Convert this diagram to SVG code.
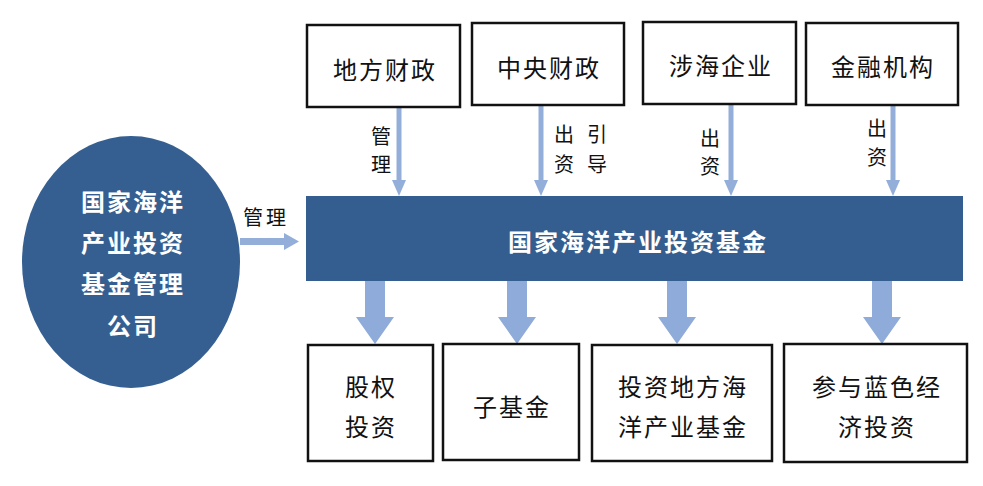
<svg xmlns="http://www.w3.org/2000/svg" width="983" height="486" viewBox="0 0 983 486">
<defs>
<style>
.box{fill:#fff;stroke:#111;stroke-width:2.5}
.t{font-family:"Noto Sans CJK SC","Noto Sans",sans-serif;font-size:24px;fill:#111;text-anchor:middle;dominant-baseline:central;letter-spacing:2px}
.w{font-family:"Noto Sans CJK SC","Noto Sans",sans-serif;font-size:24px;font-weight:bold;fill:#fff;text-anchor:middle;dominant-baseline:central;letter-spacing:2px}
.lbl{font-family:"Noto Sans CJK SC","Noto Sans",sans-serif;font-size:20px;fill:#111;text-anchor:middle;dominant-baseline:central}
.thin{fill:#93AED8}
.thick{fill:#8FABD9}
</style>
</defs>
<rect width="983" height="486" fill="#fff"/>

<g id="connectors">
  <!-- thin arrows from top boxes -->
  <polygon class="thin" points="396.5,107 401.5,107 401.5,180 406,180 399,196 392,180 396.5,180"/>
  <polygon class="thin" points="538.5,105 543.5,105 543.5,180 548,180 541,196 534,180 538.5,180"/>
  <polygon class="thin" points="728.5,104 733.5,104 733.5,180 738,180 731,196 724,180 728.5,180"/>
  <polygon class="thin" points="890.5,105 895.5,105 895.5,180 900,180 893,196 886,180 890.5,180"/>
  <!-- left arrow -->
  <polygon class="thin" points="240,238 284,238 284,233 299,241.5 284,250 284,245 240,245"/>
  <!-- thick arrows to bottom boxes -->
  <polygon class="thick" points="365,281 385,281 385,317 394,317 375,344 356,317 365,317"/>
  <polygon class="thick" points="507,281 527,281 527,317 536,317 517,344 498,317 507,317"/>
  <polygon class="thick" points="667,281 687,281 687,317 696,317 677,344 658,317 667,317"/>
  <polygon class="thick" points="872,281 892,281 892,317 901,317 882,344 863,317 872,317"/>
  <!-- labels -->
  <text class="lbl" x="381" y="135">管</text>
  <text class="lbl" x="381" y="163">理</text>
  <text class="lbl" x="564" y="133">出</text>
  <text class="lbl" x="564" y="163">资</text>
  <text class="lbl" x="597" y="133">引</text>
  <text class="lbl" x="597" y="163">导</text>
  <text class="lbl" x="710" y="137">出</text>
  <text class="lbl" x="710" y="165">资</text>
  <text class="lbl" x="877" y="127">出</text>
  <text class="lbl" x="877" y="156">资</text>
  <text class="lbl" x="266" y="216" style="letter-spacing:3px">管理</text>
</g>

<g id="n-local">
  <rect class="box" x="307" y="25" width="153" height="82"/>
  <text class="t" x="385" y="68">地方财政</text>
</g>
<g id="n-central">
  <rect class="box" x="472" y="23" width="152" height="82"/>
  <text class="t" x="549" y="66">中央财政</text>
</g>
<g id="n-marine">
  <rect class="box" x="643" y="22" width="153" height="82"/>
  <text class="t" x="721" y="64">涉海企业</text>
</g>
<g id="n-finance">
  <rect class="box" x="806" y="23" width="152" height="82"/>
  <text class="t" x="883" y="65">金融机构</text>
</g>

<g id="n-company">
  <ellipse cx="131" cy="262" rx="109" ry="126" fill="#355F91"/>
  <text class="w" x="133" y="200">国家海洋</text>
  <text class="w" x="133" y="241">产业投资</text>
  <text class="w" x="133" y="282">基金管理</text>
  <text class="w" x="133" y="324">公司</text>
</g>

<g id="n-fund">
  <rect x="306" y="196" width="657" height="85" fill="#345E90"/>
  <text class="w" x="638" y="240">国家海洋产业投资基金</text>
</g>

<g id="n-equity">
  <rect class="box" x="308" y="345" width="125" height="116"/>
  <text class="t" x="371" y="385">股权</text>
  <text class="t" x="371" y="425">投资</text>
</g>
<g id="n-subfund">
  <rect class="box" x="443" y="344" width="136" height="116"/>
  <text class="t" x="512" y="405">子基金</text>
</g>
<g id="n-localfund">
  <rect class="box" x="592" y="345" width="180" height="116"/>
  <text class="t" x="683" y="385">投资地方海</text>
  <text class="t" x="683" y="425">洋产业基金</text>
</g>
<g id="n-blue">
  <rect class="box" x="784" y="344" width="183" height="118"/>
  <text class="t" x="877" y="385">参与蓝色经</text>
  <text class="t" x="877" y="425">济投资</text>
</g>
</svg>
